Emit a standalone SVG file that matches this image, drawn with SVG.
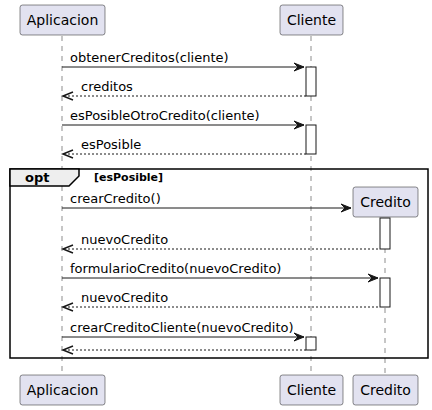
<svg xmlns="http://www.w3.org/2000/svg" width="432" height="410" viewBox="0 0 432 410">
<style>
.p rect{fill:#E2E2F0;stroke:#181818;stroke-width:0.5}
.p text{font-family:"DejaVu Sans",sans-serif;font-size:14px;fill:#000}
.life{stroke:#181818;stroke-width:0.5;stroke-dasharray:5,5}
.act{fill:#fff;stroke:#181818;stroke-width:1}
.msg{stroke:#181818;stroke-width:1;fill:none}
.ret{stroke:#181818;stroke-width:1;stroke-dasharray:2,2;fill:none}
.lbl{font-family:"DejaVu Sans",sans-serif;font-size:13px;fill:#000}
.head{fill:#181818;stroke:#181818;stroke-width:1}
.open{fill:none;stroke:#181818;stroke-width:1.5}
</style>
<rect width="432" height="410" fill="#fff"/>
<g id="lifelines">
<line class="life" x1="62" y1="36" x2="62" y2="375"/>
<line class="life" x1="311" y1="36" x2="311" y2="375"/>
<line class="life" x1="385" y1="218" x2="385" y2="375"/>
</g>
<g id="opt-frame">
<rect x="10" y="169" width="418" height="189" fill="none" stroke="#000" stroke-width="1.5"/>
<path d="M10,169 L79,169 L79,176 L69,186 L10,186 Z" fill="#EEEEEE" stroke="#000" stroke-width="1.5"/>
<text x="25" y="182" font-family="DejaVu Sans,sans-serif" font-size="13" font-weight="bold">opt</text>
<text x="94" y="181" font-family="DejaVu Sans,sans-serif" font-size="11" font-weight="bold">[esPosible]</text>
</g>
<g id="activations">
<rect class="act" x="306" y="67" width="10" height="29"/>
<rect class="act" x="306" y="125" width="10" height="29"/>
<rect class="act" x="380" y="218" width="10" height="31"/>
<rect class="act" x="380" y="278" width="10" height="29"/>
<rect class="act" x="306" y="337" width="10" height="13"/>
</g>
<g id="connectors">
<line class="msg" x1="62" y1="67" x2="304" y2="67"/>
<path class="head" d="M294,63 L304,67 L294,71 L298,67 Z"/>
<text class="lbl" x="70" y="62">obtenerCreditos(cliente)</text>
<line class="ret" x1="64" y1="96" x2="306" y2="96"/>
<path class="open" d="M73,92 L63,96 L73,100"/>
<text class="lbl" x="81" y="91">creditos</text>

<line class="msg" x1="62" y1="125" x2="304" y2="125"/>
<path class="head" d="M294,121 L304,125 L294,129 L298,125 Z"/>
<text class="lbl" x="70" y="120">esPosibleOtroCredito(cliente)</text>
<line class="ret" x1="64" y1="154" x2="306" y2="154"/>
<path class="open" d="M73,150 L63,154 L73,158"/>
<text class="lbl" x="81" y="149">esPosible</text>

<line class="msg" x1="62" y1="208" x2="351" y2="208"/>
<path class="head" d="M341,204 L351,208 L341,212 L345,208 Z"/>
<text class="lbl" x="70" y="203">crearCredito()</text>
<line class="ret" x1="64" y1="249" x2="380" y2="249"/>
<path class="open" d="M73,245 L63,249 L73,253"/>
<text class="lbl" x="81" y="244">nuevoCredito</text>

<line class="msg" x1="62" y1="278" x2="378" y2="278"/>
<path class="head" d="M368,274 L378,278 L368,282 L372,278 Z"/>
<text class="lbl" x="70" y="273">formularioCredito(nuevoCredito)</text>
<line class="ret" x1="64" y1="307" x2="380" y2="307"/>
<path class="open" d="M73,303 L63,307 L73,311"/>
<text class="lbl" x="81" y="302">nuevoCredito</text>

<line class="msg" x1="62" y1="337" x2="304" y2="337"/>
<path class="head" d="M294,333 L304,337 L294,341 L298,337 Z"/>
<text class="lbl" x="70" y="332">crearCreditoCliente(nuevoCredito)</text>
<line class="ret" x1="64" y1="350" x2="306" y2="350"/>
<path class="open" d="M73,346 L63,350 L73,354"/>
</g>
<g id="Aplicacion" class="p">
<rect x="20" y="5" width="85" height="30" rx="2.5"/>
<text x="62.5" y="25" text-anchor="middle">Aplicacion</text>
</g>
<g id="Cliente" class="p">
<rect x="280" y="5" width="63" height="30" rx="2.5"/>
<text x="311.5" y="25" text-anchor="middle">Cliente</text>
</g>
<g id="Credito" class="p">
<rect x="353" y="187" width="65" height="30" rx="2.5"/>
<text x="385.5" y="207" text-anchor="middle">Credito</text>
</g>
<g id="Aplicacion-bottom" class="p">
<rect x="20" y="375" width="85" height="30" rx="2.5"/>
<text x="62.5" y="395" text-anchor="middle">Aplicacion</text>
</g>
<g id="Cliente-bottom" class="p">
<rect x="280" y="375" width="63" height="30" rx="2.5"/>
<text x="311.5" y="395" text-anchor="middle">Cliente</text>
</g>
<g id="Credito-bottom" class="p">
<rect x="353" y="375" width="65" height="30" rx="2.5"/>
<text x="385.5" y="395" text-anchor="middle">Credito</text>
</g>
</svg>
